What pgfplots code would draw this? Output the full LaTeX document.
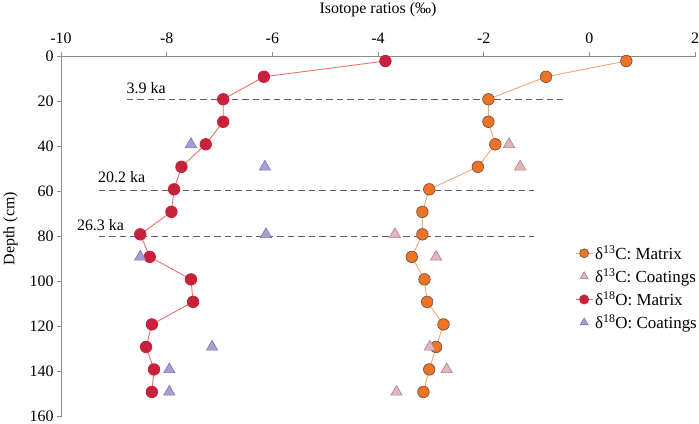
\documentclass[border=0pt]{standalone}
\usepackage{fontspec}
\setmainfont{Liberation Serif}
\usepackage{pgfplots}
\pgfplotsset{compat=1.18}
\definecolor{orgfill}{HTML}{EC7424}
\definecolor{orgedge}{HTML}{6A4A44}
\definecolor{orgline}{HTML}{F7A474}
\definecolor{redfill}{HTML}{C8213C}
\definecolor{redline}{HTML}{E8716F}
\definecolor{pinkfill}{HTML}{E5B5BA}
\definecolor{pinkedge}{HTML}{A8808A}
\definecolor{purfill}{HTML}{AA9DD4}
\definecolor{puredge}{HTML}{8070B8}
\definecolor{axgray}{HTML}{8C8C8C}
\definecolor{dashgray}{HTML}{606060}
\begin{document}
\begin{tikzpicture}
\useasboundingbox (0,0) rectangle (699bp,424bp);
\begin{axis}[
  at={(61bp,367.5bp)}, anchor=north west,
  scale only axis, width=634bp, height=360.2bp,
  xmin=-10, xmax=2, ymin=0, ymax=160,
  y dir=reverse,
  axis x line=top, axis y line=left,
  axis line style={-, draw=axgray, line width=0.8pt},
  xtick={-10,-8,...,2}, ytick={0,20,...,160},
  tick align=outside, major tick length=4bp,
  tick style={draw=axgray, line width=0.8pt},
  tick label style={font=\fontsize{16}{19}\selectfont},
  xticklabel style={yshift=5bp},
  label style={font=\fontsize{16}{19}\selectfont},
  /pgf/number format/assume math mode=true,
  xlabel={Isotope ratios (‰)},
  xlabel style={yshift=9bp},
  ylabel={Depth (cm)},
  ylabel style={yshift=5bp, xshift=8bp},
  legend cell align=left,
  legend image post style={mark size=4.5bp},
  legend style={draw=none, fill=none, at={(0.806,0.487)}, anchor=north west,
    font=\fontsize{17}{20}\selectfont, row sep=3.5bp},
  clip=false,
]
% dashed age lines
\addplot[dashgray, dash pattern=on 6.5bp off 4bp, line width=0.8pt, forget plot] coordinates {(-8.76,19) (-0.49,19)};
\addplot[dashgray, dash pattern=on 6.5bp off 4bp, line width=0.8pt, forget plot] coordinates {(-9.29,59.3) (-1.04,59.3)};
\addplot[dashgray, dash pattern=on 6.5bp off 4bp, line width=0.8pt, forget plot] coordinates {(-9.29,79.7) (-1.04,79.7)};

% d13C matrix
\addplot[orgline, line width=0.9pt, mark=*, mark size=5.8bp,
  mark options={fill=orgfill, draw=orgedge, line width=0.6pt}]
  coordinates {
  (0.70,2) (-0.82,9) (-1.91,19) (-1.91,29) (-1.78,39) (-2.11,49) (-3.03,59)
  (-3.16,69) (-3.16,79) (-3.36,89) (-3.12,99) (-3.07,109) (-2.76,119)
  (-2.90,129) (-3.03,139) (-3.14,149)};
\addlegendentry{δ\textsuperscript{13}C: Matrix}
% d13C coatings
\addplot[only marks, mark=triangle*, mark size=6.5bp,
  mark options={fill=pinkfill, draw=pinkedge, line width=0.6pt}]
  coordinates {
  (-1.52,39) (-1.31,49) (-3.68,79) (-2.90,89) (-3.02,129) (-2.70,139) (-3.65,149)};
\addlegendentry{δ\textsuperscript{13}C: Coatings}
% d18O matrix
\addplot[redline, line width=0.9pt, mark=*, mark size=5.7bp,
  mark options={fill=redfill, draw=redfill}]
  coordinates {
  (-3.86,2) (-6.16,9) (-6.93,19) (-6.93,29) (-7.26,39) (-7.72,49) (-7.86,59)
  (-7.91,69) (-8.50,79) (-8.32,89) (-7.54,99) (-7.50,109) (-8.28,119)
  (-8.39,129) (-8.24,139) (-8.28,149)};
\addlegendentry{δ\textsuperscript{18}O: Matrix}
% d18O coatings
\addplot[only marks, mark=triangle*, mark size=6.5bp,
  mark options={fill=purfill, draw=puredge, line width=0.6pt}]
  coordinates {
  (-7.54,39) (-6.14,49) (-6.12,79) (-8.50,89) (-7.14,129) (-7.95,139) (-7.95,149)};
\addlegendentry{δ\textsuperscript{18}O: Coatings}

\node[anchor=base west, inner sep=0pt, font=\fontsize{16}{19}\selectfont] at (axis cs:-8.76,16.4) {3.9 ka};
\node[anchor=base west, inner sep=0pt, font=\fontsize{16}{19}\selectfont] at (axis cs:-9.30,55.8) {20.2 ka};
\node[anchor=base west, inner sep=0pt, font=\fontsize{16}{19}\selectfont] at (axis cs:-9.70,77.1) {26.3 ka};
\end{axis}
\end{tikzpicture}
\end{document}
